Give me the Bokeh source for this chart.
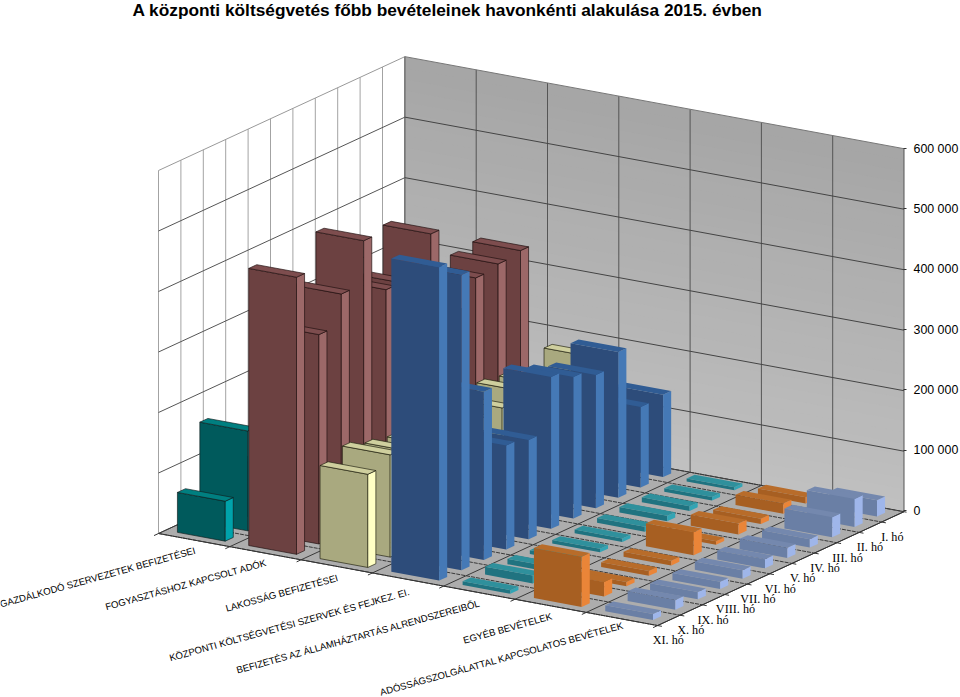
from bokeh.plotting import figure
from bokeh.models import ColumnDataSource, LinearAxis, Range1d, FixedTicker
from bokeh.core.properties import value
from bokeh.embed import file_html
from bokeh.resources import INLINE

title_text = "A központi költségvetés főbb bevételeinek havonkénti alakulása 2015. évben"
categories = ["GAZDÁLKODÓ SZERVEZETEK BEFIZETÉSEI", "FOGYASZTÁSHOZ KAPCSOLT ADÓK", "LAKOSSÁG BEFIZETÉSEI",
              "KÖZPONTI KÖLTSÉGVETÉSI SZERVEK ÉS FEJKEZ. EI.", "BEFIZETÉS AZ ÁLLAMHÁZTARTÁS ALRENDSZEREIBŐL",
              "EGYÉB BEVÉTELEK", "ADÓSSÁGSZOLGÁLATTAL KAPCSOLATOS BEVÉTELEK"]
months = ["I. hó", "II. hó", "III. hó", "IV. hó", "V. hó", "VI. hó", "VII. hó", "VIII. hó", "IX. hó", "X. hó", "XI. hó"]
value_ticks = [0, 100000, 200000, 300000, 400000, 500000, 600000]
tick_labels = ["0", "100 000", "200 000", "300 000", "400 000", "500 000", "600 000"]

gazdalkodo = [110000, 60000, 130000, 70000, 60000, 120000, 60000, 60000, 90000, 165000, 66000]
fogyasztas = [331000, 326000, 320000, 280000, 427000, 361000, 369000, 467000, 396000, 346000, 458000]
lakossag = [177000, 150000, 165000, 171000, 161000, 160000, 160000, 150000, 157000, 169000, 154000]
kozponti = [136000, 133000, 241000, 220000, 234000, 251000, 164000, 172000, 278000, 488000, 518000]
allamhaztartas = [5000, 6000, 8000, 9000, 8000, 6000, 6000, 6000, 9000, 13000, 6000]
egyeb = [10000, 17000, 9000, 18000, 6000, 38000, 8000, 8000, 7000, 24000, 83000]
adossag = [27000, 46000, 33000, 14000, 17000, 15000, 14000, 12000, 12000, 16000, 10000]
series = [gazdalkodo, fogyasztas, lakossag, kozponti, allamhaztartas, egyeb, adossag]

# (front, top, side, outline)
palette = [("#005a5c", "#007f80", "#00a3ab", "#102020"),
           ("#6c4141", "#7d4d4e", "#9c6868", "#201010"),
           ("#a9a97f", "#cfcf9e", "#ffffc4", "#202010"),
           ("#2d4c7a", "#305c94", "#4579b6", None),
           ("#207380", "#2f909c", "#33a4b4", None),
           ("#a75f22", "#b86c2a", "#ea8538", None),
           ("#6a7fa5", "#7488ae", "#9fb6ea", None)]

OX, OY = 158.0, 533.0
CX, CY = 71.3, 13.15
MX, MY = 22.4, -10.35
VY = 60.5 / 100000
NC, NM = len(categories), len(months)


def proj(c, m, v=0.0):
    return OX + CX * c + MX * m, OY + CY * c + MY * m - VY * v


def poly(pts):
    q = [proj(*t) for t in pts]
    return [a for a, _ in q], [b for _, b in q]


p = figure(frame_width=906, frame_height=697, x_range=(0, 906), y_range=(697, 0),
           x_axis_location=None, y_axis_location=None, toolbar_location=None,
           output_backend="svg", min_border=0, outline_line_color=None)
p.grid.visible = False

vtop = value_ticks[-1]
# back (right) wall with a soft vertical gradient, drawn as overlapping strips
wxs, wys, wcs = [], [], []
strips = 32
for i in range(strips):
    a = vtop * (1 - i / strips)
    x, y = poly([(0, NM, a), (NC, NM, a), (NC, NM, 0), (0, NM, 0)])
    wxs.append(x); wys.append(y)
    g = int(166 + (192 - 166) * i / (strips - 1))
    wcs.append("#%02x%02x%02x" % (g, g, g))
p.patches(wxs, wys, fill_color=wcs, line_color=None)

# floor
x, y = poly([(0, 0), (NC, 0), (NC, NM), (0, NM)])
p.patch(x, y, fill_color="#adadad", line_color=None)


def seg(a, b, color, width=1.0, dash="solid"):
    x, y = poly([a, b])
    p.line(x, y, line_color=color, line_width=width, line_dash=dash)


# left wall grid
for m in range(NM + 1):
    seg((0, m, 0), (0, m, vtop), "#a3a3a3", 1.0)
for v in value_ticks:
    seg((0, 0, v), (0, NM, v), "#555555" if v < vtop else "#999999", 1.0)
# right wall grid
for c in range(NC + 1):
    seg((c, NM, 0), (c, NM, vtop), "#555555", 1.0)
for v in value_ticks:
    seg((0, NM, v), (NC, NM, v), "#444444" if v < vtop else "#777777", 1.0)
# floor grid
for c in range(NC + 1):
    seg((c, 0), (c, NM), "#3a3a3a", 1.0)
for m in range(NM + 1):
    seg((0, m), (NC, m), "#3a3a3a", 1.0, "4 1")
seg((0, 0), (NC, 0), "#333333", 1.0)
seg((NC, 0), (NC, NM), "#333333", 1.0)
# tick marks on the floor edges
for c in range(NC + 1):
    seg((c, 0), (c, -0.2), "#333333", 1.0)
for m in range(NM + 1):
    seg((NC, m), (NC + 0.06, m), "#333333", 1.0)

# bars, far ones first
C0, C1 = 0.165, 0.835
M0, M1 = 0.32, 0.68
xs, ys, fc, lc, la = [], [], [], [], []
for c in range(NC):
    front, top, side, edge = palette[c]
    for j in range(NM):            # I. hó stands at the back
        m = NM - 1 - j
        v = series[c][j]
        a, b, d, e = c + C0, c + C1, m + M0, m + M1
        faces = [([(a, d, 0), (b, d, 0), (b, d, v), (a, d, v)], front),
                 ([(b, d, 0), (b, e, 0), (b, e, v), (b, d, v)], side),
                 ([(a, d, v), (b, d, v), (b, e, v), (a, e, v)], top)]
        for pts, col in faces:
            x, y = poly(pts)
            xs.append(x); ys.append(y); fc.append(col)
            lc.append(edge or col); la.append(0.85 if edge else 0.0)
p.patches("xs", "ys", fill_color="fc", line_color="lc", line_alpha="la", line_width=0.8,
          source=ColumnDataSource(dict(xs=xs, ys=ys, fc=fc, lc=lc, la=la)))

# category labels, right end under the middle of each category
cx, cy = zip(*[proj(c + 0.5, 0) for c in range(NC)])
drop = [10, 9, 11, 12, 10, 10, 6]
p.text([a + 1 for a in cx], [b + d for b, d in zip(cy, drop)], text=categories, angle=15.5, angle_units="deg",
       text_font=value("Liberation Sans"), text_font_size="9.6px", text_color="#000000",
       text_align="right", text_baseline="middle")

# month labels
mx, my = zip(*[proj(NC, NM - 1 - j + 0.5) for j in range(NM)])
p.text([a - 0.5 for a in mx], [b + 20 for b in my], text=months,
       text_font=value("Liberation Serif"), text_font_size="12.2px", text_color="#000000",
       text_align="center", text_baseline="middle")

# title
p.text([447], [9], text=[title_text], text_font=value("Liberation Sans"), text_font_size="17.3px",
       text_font_style="bold", text_color="#000000", text_align="center", text_baseline="middle")

# value axis
Y0, Y600 = 510.0, 148.0
scale = (Y0 - Y600) / vtop
p.extra_y_ranges = {"v": Range1d(start=(Y0 - 697) / scale, end=Y0 / scale)}
ax = LinearAxis(y_range_name="v", ticker=FixedTicker(ticks=value_ticks),
                major_label_overrides=dict(zip(value_ticks, tick_labels)))
ax.axis_line_color = None
ax.minor_tick_line_color = None
ax.major_tick_in = 3
ax.major_tick_out = 0
ax.major_tick_line_color = "#333333"
ax.major_label_standoff = 7
ax.major_label_text_font = "Liberation Sans"
ax.major_label_text_font_size = "12.4px"
ax.major_label_text_color = "#000000"
p.add_layout(ax, "right")

open("out.html", "w").write(file_html(p, INLINE))
